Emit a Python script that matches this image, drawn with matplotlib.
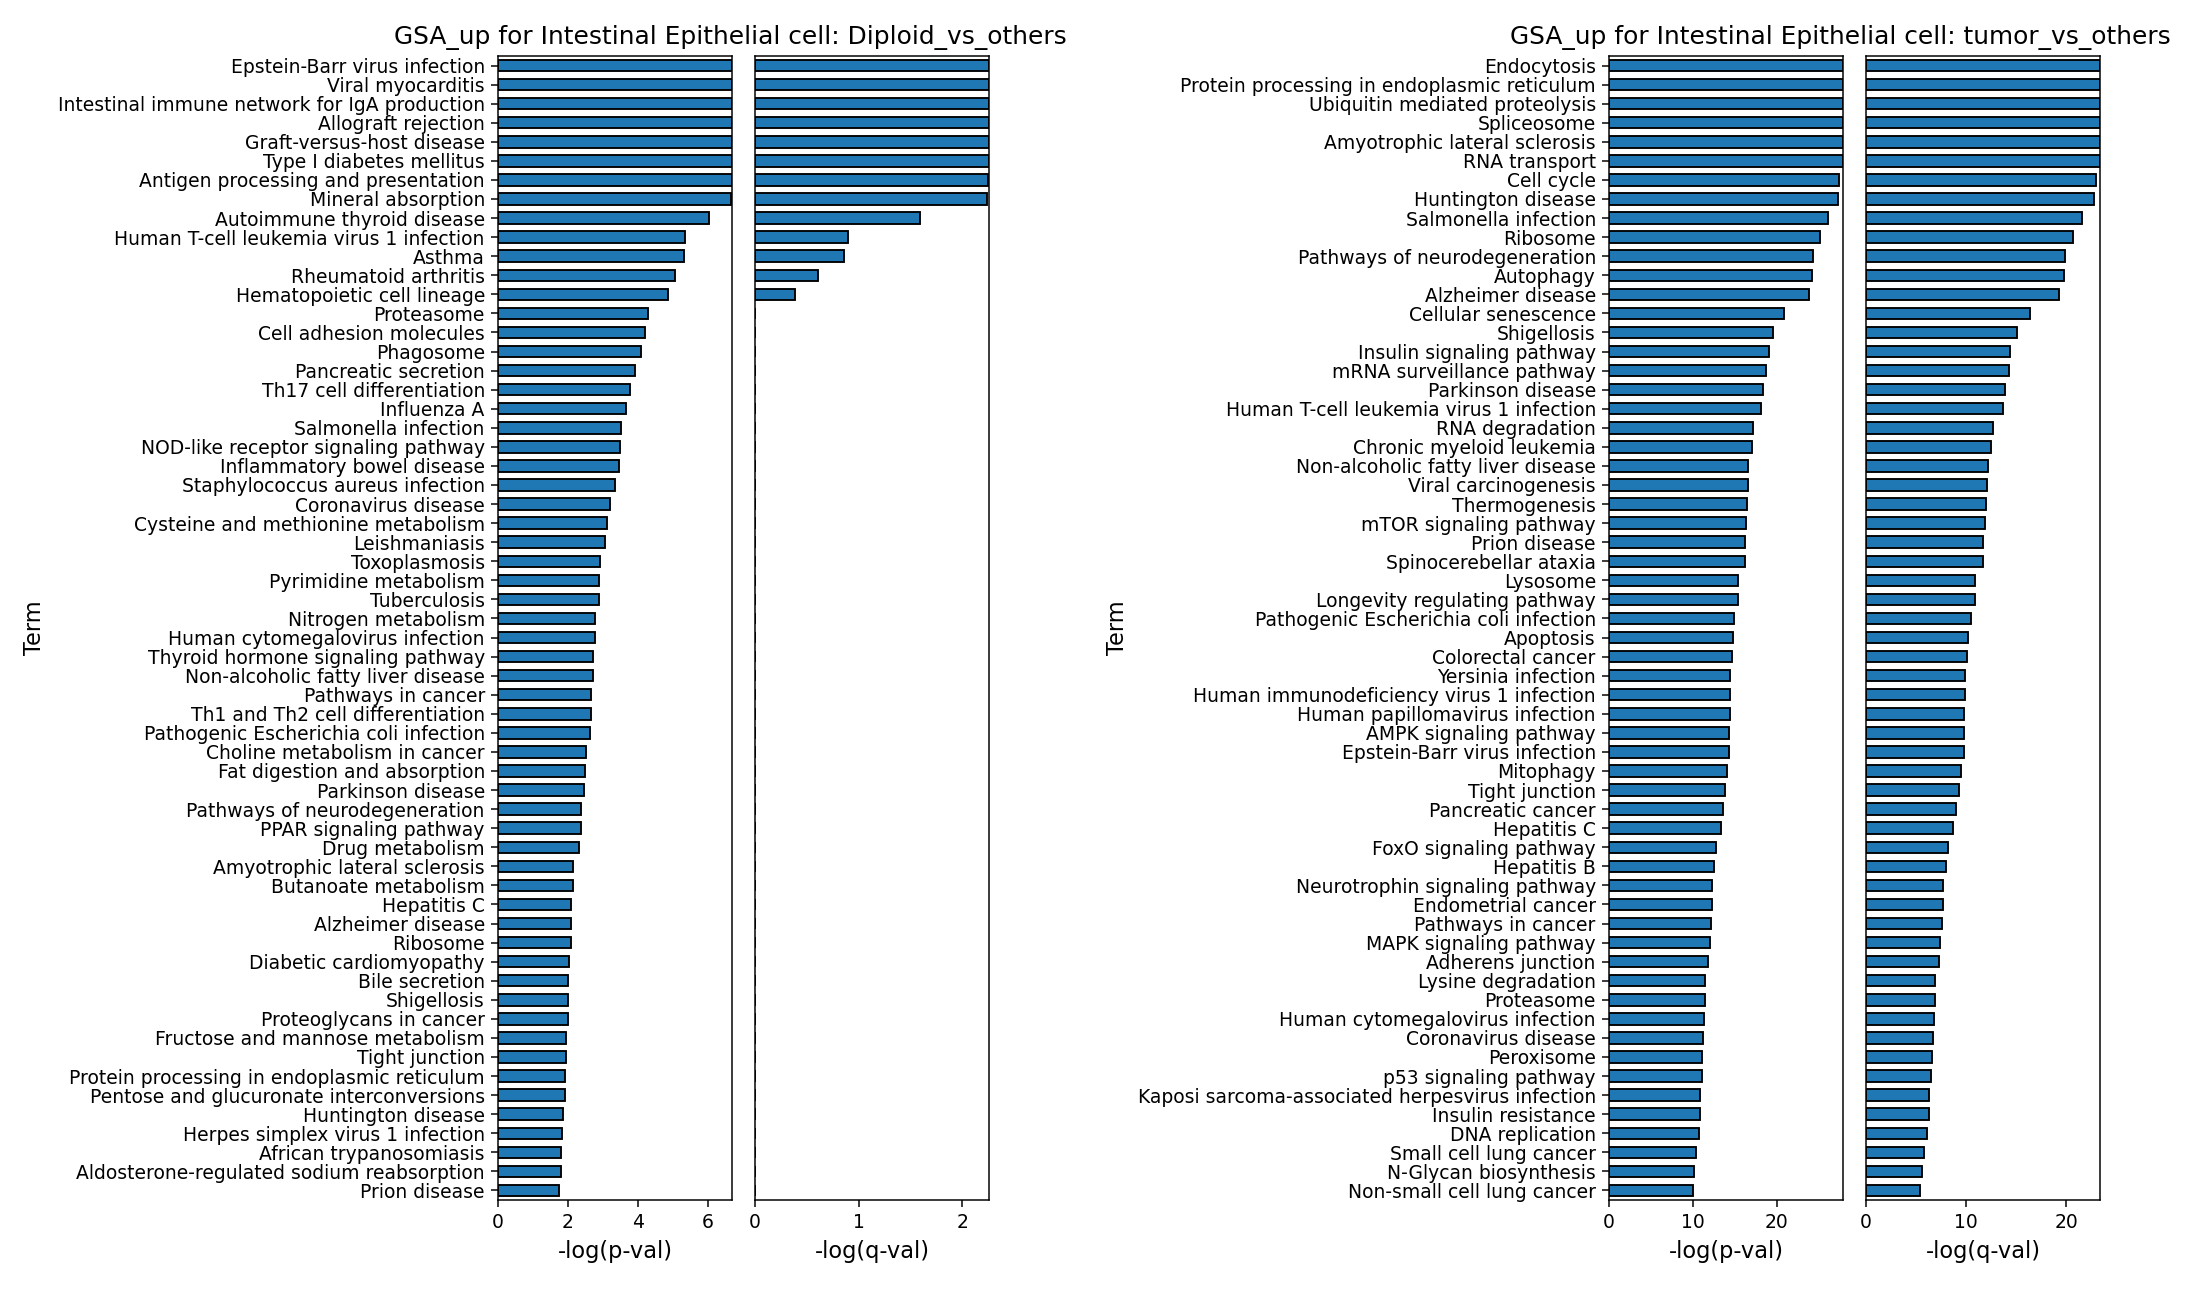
import numpy as np
import matplotlib
matplotlib.use('Agg')
import matplotlib.pyplot as plt

# ---- Diploid_vs_others ----
diploid_terms = [
    'Epstein-Barr virus infection', 'Viral myocarditis',
    'Intestinal immune network for IgA production', 'Allograft rejection',
    'Graft-versus-host disease', 'Type I diabetes mellitus',
    'Antigen processing and presentation', 'Mineral absorption',
    'Autoimmune thyroid disease', 'Human T-cell leukemia virus 1 infection',
    'Asthma', 'Rheumatoid arthritis', 'Hematopoietic cell lineage',
    'Proteasome', 'Cell adhesion molecules', 'Phagosome',
    'Pancreatic secretion', 'Th17 cell differentiation', 'Influenza A',
    'Salmonella infection', 'NOD-like receptor signaling pathway',
    'Inflammatory bowel disease', 'Staphylococcus aureus infection',
    'Coronavirus disease', 'Cysteine and methionine metabolism',
    'Leishmaniasis', 'Toxoplasmosis', 'Pyrimidine metabolism',
    'Tuberculosis', 'Nitrogen metabolism', 'Human cytomegalovirus infection',
    'Thyroid hormone signaling pathway', 'Non-alcoholic fatty liver disease',
    'Pathways in cancer', 'Th1 and Th2 cell differentiation',
    'Pathogenic Escherichia coli infection', 'Choline metabolism in cancer',
    'Fat digestion and absorption', 'Parkinson disease',
    'Pathways of neurodegeneration', 'PPAR signaling pathway',
    'Drug metabolism', 'Amyotrophic lateral sclerosis',
    'Butanoate metabolism', 'Hepatitis C', 'Alzheimer disease', 'Ribosome',
    'Diabetic cardiomyopathy', 'Bile secretion', 'Shigellosis',
    'Proteoglycans in cancer', 'Fructose and mannose metabolism',
    'Tight junction', 'Protein processing in endoplasmic reticulum',
    'Pentose and glucuronate interconversions', 'Huntington disease',
    'Herpes simplex virus 1 infection', 'African trypanosomiasis',
    'Aldosterone-regulated sodium reabsorption', 'Prion disease',
]
diploid_p = [
    6.70, 6.70, 6.70, 6.70, 6.70, 6.70, 6.70, 6.68, 6.04, 5.35,
    5.32, 5.06, 4.86, 4.29, 4.20, 4.09, 3.92, 3.77, 3.66, 3.51,
    3.49, 3.46, 3.34, 3.20, 3.11, 3.06, 2.91, 2.88, 2.88, 2.77,
    2.77, 2.71, 2.71, 2.66, 2.66, 2.63, 2.51, 2.48, 2.45, 2.37,
    2.37, 2.31, 2.14, 2.14, 2.08, 2.08, 2.08, 2.02, 2.00, 2.00,
    2.00, 1.94, 1.94, 1.91, 1.91, 1.85, 1.82, 1.80, 1.80, 1.74,
]
diploid_q = [
    2.26, 2.26, 2.26, 2.26, 2.26, 2.26, 2.25, 2.24, 1.59, 0.90,
    0.86, 0.61, 0.39, 0, 0, 0, 0, 0, 0, 0,
    0, 0, 0, 0, 0, 0, 0, 0, 0, 0,
    0, 0, 0, 0, 0, 0, 0, 0, 0, 0,
    0, 0, 0, 0, 0, 0, 0, 0, 0, 0,
    0, 0, 0, 0, 0, 0, 0, 0, 0, 0,
]

# ---- tumor_vs_others ----
tumor_terms = [
    'Endocytosis', 'Protein processing in endoplasmic reticulum',
    'Ubiquitin mediated proteolysis', 'Spliceosome',
    'Amyotrophic lateral sclerosis', 'RNA transport', 'Cell cycle',
    'Huntington disease', 'Salmonella infection', 'Ribosome',
    'Pathways of neurodegeneration', 'Autophagy', 'Alzheimer disease',
    'Cellular senescence', 'Shigellosis', 'Insulin signaling pathway',
    'mRNA surveillance pathway', 'Parkinson disease',
    'Human T-cell leukemia virus 1 infection', 'RNA degradation',
    'Chronic myeloid leukemia', 'Non-alcoholic fatty liver disease',
    'Viral carcinogenesis', 'Thermogenesis', 'mTOR signaling pathway',
    'Prion disease', 'Spinocerebellar ataxia', 'Lysosome',
    'Longevity regulating pathway', 'Pathogenic Escherichia coli infection',
    'Apoptosis', 'Colorectal cancer', 'Yersinia infection',
    'Human immunodeficiency virus 1 infection',
    'Human papillomavirus infection', 'AMPK signaling pathway',
    'Epstein-Barr virus infection', 'Mitophagy', 'Tight junction',
    'Pancreatic cancer', 'Hepatitis C', 'FoxO signaling pathway',
    'Hepatitis B', 'Neurotrophin signaling pathway', 'Endometrial cancer',
    'Pathways in cancer', 'MAPK signaling pathway', 'Adherens junction',
    'Lysine degradation', 'Proteasome', 'Human cytomegalovirus infection',
    'Coronavirus disease', 'Peroxisome', 'p53 signaling pathway',
    'Kaposi sarcoma-associated herpesvirus infection', 'Insulin resistance',
    'DNA replication', 'Small cell lung cancer', 'N-Glycan biosynthesis',
    'Non-small cell lung cancer',
]
tumor_p = [
    27.9, 27.9, 27.9, 27.9, 27.9, 27.9, 27.47, 27.36, 26.16, 25.2,
    24.37, 24.25, 23.9, 20.9, 19.6, 19.05, 18.77, 18.4, 18.17, 17.2,
    17.0, 16.6, 16.6, 16.5, 16.38, 16.26, 16.18, 15.43, 15.43, 14.95,
    14.75, 14.63, 14.4, 14.4, 14.4, 14.27, 14.27, 14.04, 13.8, 13.56,
    13.32, 12.72, 12.49, 12.25, 12.25, 12.13, 12.0, 11.77, 11.41, 11.41,
    11.29, 11.17, 11.05, 11.05, 10.81, 10.81, 10.7, 10.34, 10.1, 9.98,
]
tumor_q = [
    23.37, 23.37, 23.37, 23.37, 23.37, 23.37, 23.0, 22.8, 21.6, 20.7,
    19.9, 19.8, 19.3, 16.4, 15.1, 14.4, 14.3, 13.9, 13.7, 12.7,
    12.5, 12.2, 12.1, 12.0, 11.9, 11.7, 11.7, 10.9, 10.9, 10.5,
    10.2, 10.1, 9.9, 9.9, 9.8, 9.8, 9.8, 9.5, 9.3, 9.0,
    8.7, 8.2, 8.0, 7.7, 7.7, 7.6, 7.4, 7.3, 6.9, 6.9,
    6.8, 6.7, 6.6, 6.5, 6.3, 6.3, 6.1, 5.8, 5.6, 5.4,
]

W, H, DPI = 2195, 1290, 135
fig = plt.figure(figsize=(W / DPI, H / DPI), dpi=DPI)


def px_axes(x0, x1, y0=56, y1=1200):
    return fig.add_axes([x0 / W, 1 - y1 / H, (x1 - x0) / W, (y1 - y0) / H])


def draw_panel(terms, pvals, qvals, xs, title, title_x, term_x):
    ax_p = px_axes(*xs[0])
    ax_q = px_axes(*xs[1])
    y = np.arange(len(terms))
    for ax, vals, lab in [(ax_p, pvals, '-log(p-val)'), (ax_q, qvals, '-log(q-val)')]:
        ax.barh(y, vals, height=0.6, color='#1f77b4', edgecolor='black', linewidth=1.0)
        ax.set_ylim(len(terms) - 0.5, -0.5)
        ax.set_xlim(0, max(vals))
        ax.set_xlabel(lab, fontsize=12)
    ax_p.set_yticks(y)
    ax_p.set_yticklabels(terms, fontsize=10)
    ax_q.set_yticks([])
    ax_p.set_ylabel('Term', fontsize=12)
    ax_p.yaxis.set_label_coords(term_x, 0.5)
    fig.text(title_x / W, 1 - 44 / H, title, ha='center', va='baseline', fontsize=13.3)


draw_panel(diploid_terms, diploid_p, diploid_q, [(498, 732), (755, 989)],
           'GSA_up for Intestinal Epithelial cell: Diploid_vs_others', 730, -1.933)
draw_panel(tumor_terms, tumor_p, tumor_q, [(1609, 1843), (1866, 2100)],
           'GSA_up for Intestinal Epithelial cell: tumor_vs_others', 1840, -2.05)

fig.savefig('out.png', dpi=DPI)
